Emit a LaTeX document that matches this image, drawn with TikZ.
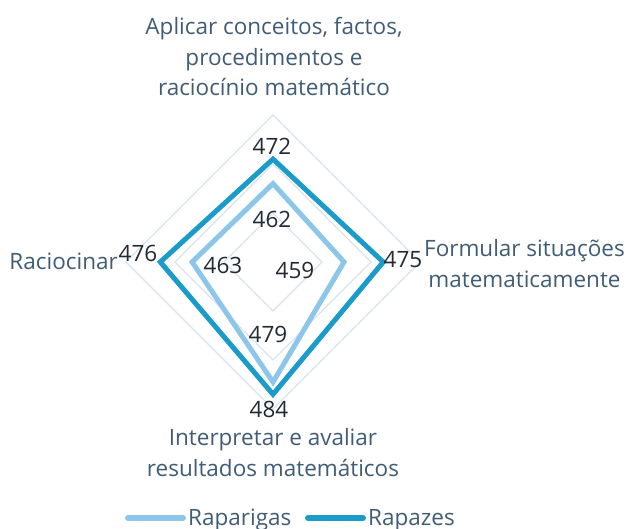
\documentclass[tikz,border=0pt]{standalone}
\usepackage{fontspec}
\setmainfont{Open Sans}
\definecolor{boys}{HTML}{1A9BCA}
\definecolor{girls}{HTML}{8CC6EA}
\definecolor{gridc}{HTML}{D8E3EB}
\definecolor{cattext}{HTML}{415D75}
\definecolor{numtext}{HTML}{222B33}
\tikzset{
  gridline/.style={draw=gridc, line width=1.3pt, line join=miter},
  series/.style={line width=5pt, line join=miter},
  cat/.style={font=\fontsize{22.5}{31}\selectfont, text=cattext, inner sep=0pt, anchor=base},
  val/.style={font=\fontsize{22.5}{31}\selectfont, text=numtext, inner sep=0pt, anchor=base},
  legline/.style={line width=6pt, line cap=round}
}
\begin{document}
\begin{tikzpicture}[x=1pt,y=-1pt]
\useasboundingbox[fill=white] (0,0) rectangle (628,529);
% grid
\begin{scope}[shift={(273,262)}]
\foreach \r in {49,98,147}{
  \draw[gridline] (0,-\r) -- (\r,0) -- (0,\r) -- (-\r,0) -- cycle;
}
% Raparigas: 462, 459, 479, 463 ; r=(v-430)*2.45
\coordinate (g1) at (0,-78.4);
\coordinate (g2) at (71.05,0);
\coordinate (g3) at (0,120.05);
\coordinate (g4) at (-80.85,0);
% Rapazes: 472, 475, 484, 476
\coordinate (b1) at (0,-102.9);
\coordinate (b2) at (110.25,0);
\coordinate (b3) at (0,132.3);
\coordinate (b4) at (-112.7,0);
\end{scope}
\draw[series, girls] (g1) -- (g2) -- (g3) -- (g4) -- cycle;
\draw[series, boys] (b1) -- (b2) -- (b3) -- (b4) -- cycle;
% category labels
\node[cat] (t1) at (274,35) {Aplicar conceitos, factos,};
\node[cat] (t2) at (274,66) {procedimentos e};
\node[cat] (t3) at (274,96) {raciocínio matemático};
\node[cat, anchor=base east] (l1) at (118,269) {Raciocinar};
\node[cat] (r1) at (524.5,256) {Formular situações};
\node[cat] (r2) at (524.5,287) {matematicamente};
\node[cat] (d1) at (273,445) {Interpretar e avaliar};
\node[cat] (d2) at (273,476) {resultados matemáticos};
% values
\node[val] (v472) at (272,155) {472};
\node[val] (v462) at (272,227) {462};
\node[val] (v476) at (138,261) {476};
\node[val] (v463) at (223,273) {463};
\node[val] (v459) at (295,278) {459};
\node[val] (v475) at (403,267) {475};
\node[val] (v479) at (268,342) {479};
\node[val] (v484) at (269,417) {484};
% legend
\coordinate (la1) at (128,518);
\coordinate (la2) at (183,518);
\coordinate (lb1) at (308,518);
\coordinate (lb2) at (363,518);
\draw[legline, girls] (la1) -- (la2);
\draw[legline, boys] (lb1) -- (lb2);
\node[cat, anchor=base west] (lg1) at (188,525) {Raparigas};
\node[cat, anchor=base west] (lg2) at (368,525) {Rapazes};
\end{tikzpicture}
\end{document}
